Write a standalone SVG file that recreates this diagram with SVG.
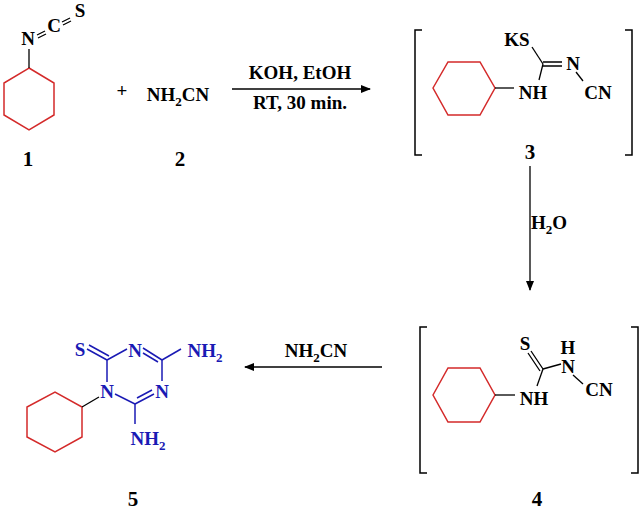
<svg xmlns="http://www.w3.org/2000/svg" width="640" height="512" viewBox="0 0 640 512">
<style>
text{font-family:"Liberation Serif",serif;font-weight:bold;font-size:19px;fill:#000;text-anchor:middle}
.b{fill:#1a1ab4}
.ring{fill:none;stroke:#d42a2a;stroke-width:1.5}
.bd{stroke:#000;stroke-width:1.3;fill:none}
.bb{stroke:#1a1ab4;stroke-width:1.5;fill:none}
.br{stroke:#000;stroke-width:1.5;fill:none}
.lab{font-size:21px}
</style>
<defs><marker id="ah" markerWidth="10" markerHeight="8" refX="9" refY="4" orient="auto" markerUnits="userSpaceOnUse"><path d="M0,0 L10,4 L0,8 Z" fill="#000"/></marker></defs>
<g id="c1">
<polygon class="ring" points="29,68 54,83 54,115 29,130 4,115 4,83"/>
<line class="bd" x1="29" y1="68" x2="29" y2="49"/>
<text x="28" y="45">N</text>
<path class="bd" d="M37,35 L45,31 M38,38 L46,34 M62,22 L70,18 M63,25 L71,21"/>
<text x="54" y="32">C</text>
<text x="80" y="17">S</text>
<text class="lab" x="28" y="166">1</text>
</g>
<g id="c2">
<text x="122" y="97" font-size="22">+</text>
<text x="178" y="101">NH<tspan font-size="13" dy="5">2</tspan><tspan dy="-5">CN</tspan></text>
<text class="lab" x="180" y="166">2</text>
</g>
<g id="c3">
<path class="br" d="M422,30 L415,30 L415,155 L422,155 M625,30 L632,30 L632,155 L625,155"/>
<polygon class="ring" points="433,88 448,62 480,62 495,88 480,115 448,115"/>
<line class="bd" x1="495" y1="88" x2="514" y2="88"/>
<text x="533" y="99">NH</text>
<line class="bd" x1="539" y1="80" x2="543" y2="64"/>
<line class="bd" x1="532" y1="47" x2="543" y2="64"/>
<text x="517" y="46">KS</text>
<path class="bd" d="M543,62 L562,62 M543,66 L562,66"/>
<text x="573" y="70">N</text>
<line class="bd" x1="576" y1="72" x2="583" y2="81"/>
<text x="598" y="99">CN</text>
<text class="lab" x="530" y="159">3</text>
</g>
<g id="c4">
<path class="br" d="M427,327 L420,327 L420,473 L427,473 M631,327 L638,327 L638,473 L631,473"/>
<polygon class="ring" points="433,395 448,368 480,368 495,395 480,422 448,422"/>
<line class="bd" x1="495" y1="395" x2="515" y2="395"/>
<text x="534" y="405">NH</text>
<line class="bd" x1="537" y1="386" x2="543" y2="369"/>
<path class="bd" d="M543,369 L531,351 M540,371 L528,353"/>
<text x="525" y="350">S</text>
<line class="bd" x1="543" y1="369" x2="561" y2="364"/>
<text x="568" y="373">N</text>
<text x="568" y="354">H</text>
<line class="bd" x1="573" y1="375" x2="583" y2="384"/>
<text x="599" y="396">CN</text>
<text class="lab" x="537" y="506">4</text>
</g>
<g id="c5">
<polygon class="ring" points="82,407 82,437 55,452 27,437 27,407 55,392"/>
<line class="bd" x1="82" y1="407" x2="99" y2="397"/>
<text class="b" x="80" y="356">S</text>
<path class="bb" d="M87,349 L107,360 M89,345 L109,356"/>
<line class="bb" x1="107" y1="360" x2="127" y2="349"/>
<text class="b" x="135" y="357">N</text>
<path class="bb" d="M143,348 L162,360 M143,353 L158,362"/>
<line class="bb" x1="162" y1="360" x2="162" y2="381"/>
<line class="bb" x1="162" y1="360" x2="181" y2="349"/>
<text class="b" x="205" y="357">NH<tspan font-size="13" dy="5">2</tspan></text>
<text class="b" x="162" y="398">N</text>
<path class="bb" d="M154,394 L135,404 M152,390 L137,398"/>
<text class="b" x="107" y="398">N</text>
<line class="bb" x1="107" y1="360" x2="107" y2="382"/>
<line class="bb" x1="115" y1="394" x2="135" y2="404"/>
<line class="bb" x1="135" y1="404" x2="135" y2="424"/>
<text class="b" x="148" y="445">NH<tspan font-size="13" dy="5">2</tspan></text>
<text class="lab" x="133" y="506">5</text>
</g>
<g id="connectors">
<line class="bd" x1="232" y1="89" x2="370" y2="89" marker-end="url(#ah)"/>
<text x="300" y="79">KOH, EtOH</text>
<text x="300" y="109">RT, 30 min.</text>
<line class="bd" x1="530" y1="166" x2="530" y2="290" marker-end="url(#ah)"/>
<text x="549" y="229">H<tspan font-size="13" dy="5">2</tspan><tspan dy="-5">O</tspan></text>
<line class="bd" x1="382" y1="367" x2="245" y2="367" marker-end="url(#ah)"/>
<text x="316" y="357">NH<tspan font-size="13" dy="5">2</tspan><tspan dy="-5">CN</tspan></text>
</g>
</svg>
